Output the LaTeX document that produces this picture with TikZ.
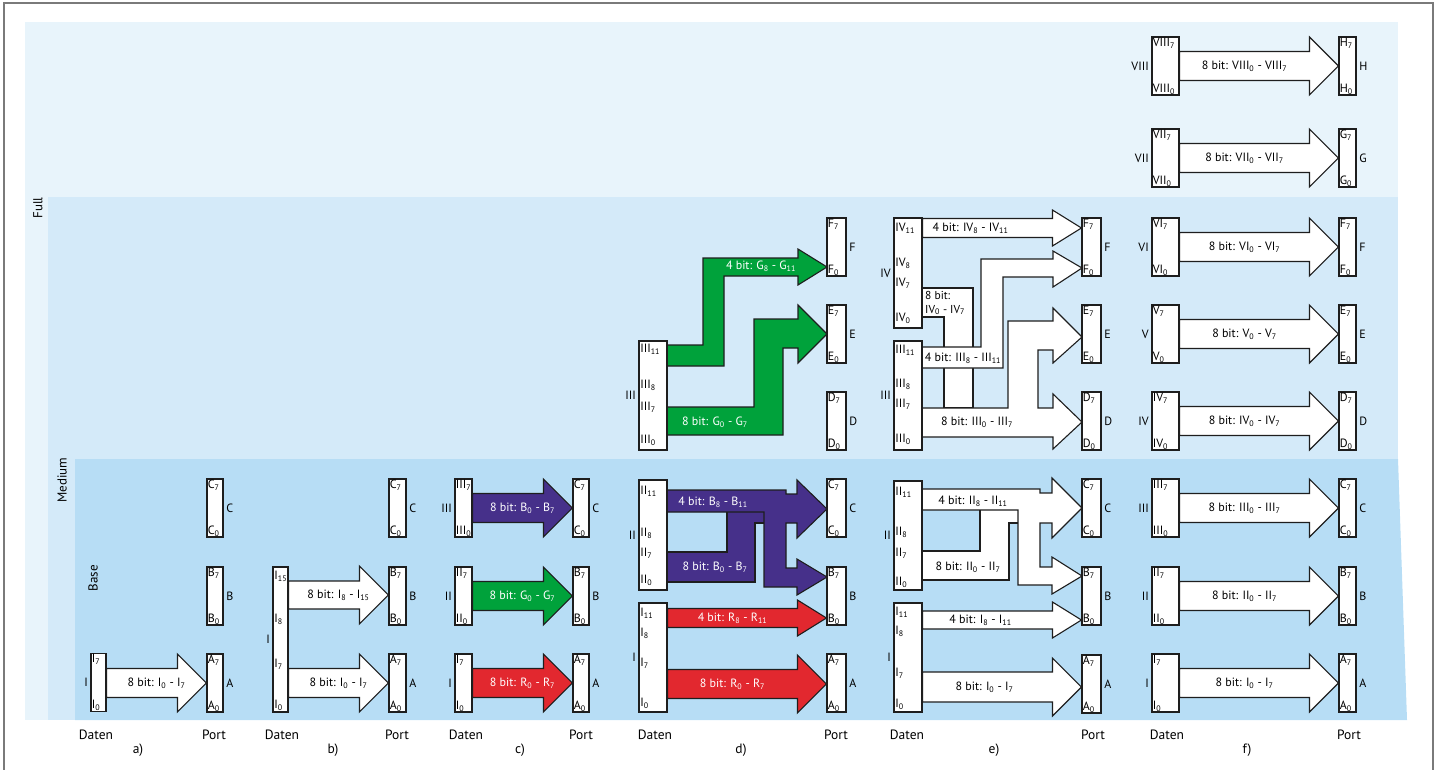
\documentclass[tikz,border=0pt]{standalone}
\usepackage{fontspec}
\setmainfont{PT Sans}
\usetikzlibrary{calc,backgrounds}
\definecolor{fullbg}{HTML}{E8F4FB}
\definecolor{medbg}{HTML}{D4EAF9}
\definecolor{basebg}{HTML}{B7DDF5}
\definecolor{edge}{HTML}{1E1E1E}
\definecolor{purp}{HTML}{46308A}
\definecolor{grn}{HTML}{00A23B}
\definecolor{rd}{HTML}{E2282F}
\definecolor{framec}{HTML}{7A7A7A}
\pgfdeclarelayer{flow}
\pgfsetlayers{background,flow,main}

% shift of the arrow text from the middle of the shaft
\newcommand{\txtshift}{0}
% block arrow: style, from, to, y, half shaft, half head, name, text
\newcommand{\blockarrow}[8]{%
  \path[#1] let \p1=(#2.east), \p2=(#3.west), \p3=(0,#4) in
    (\x1,\y3+#5) -- (\x2-29,\y3+#5) -- (\x2-29,\y3+#6) -- (\x2,\y3)
    -- (\x2-29,\y3-#6) -- (\x2-29,\y3-#5) -- (\x1,\y3-#5) -- cycle
    node[#1 text] (#7) at ({(\x1+\x2-29)/2+\txtshift},\y3) {#8};
}
% port: name, x, y, width, letter
\newcommand{\portbox}[5]{%
  \node[port=#4, label={[nameside]right:#5}] (#1) at (#2,#3) {};
  \node[hi] (#1t) at (#1.north west) {#5\textsubscript{7}};
  \node[lo] (#1b) at (#1.south west) {#5\textsubscript{0}};
}
% 8 bit data word: name, x, y, width, numeral
\newcommand{\databox}[5]{%
  \node[box, minimum width=#4, minimum height=58, label={[nameside]left:#5}] (#1) at (#2,#3) {};
  \node[hi] (#1t) at (#1.north west) {#5\textsubscript{7}};
  \node[lo] (#1b) at (#1.south west) {#5\textsubscript{0}};
}

\begin{document}
\begin{tikzpicture}[x=1pt, y=-1pt,
  every node/.style={font=\fontsize{12}{14}\selectfont},
  box/.style={draw=edge, fill=white, line width=1.1pt, inner sep=0pt},
  port/.style={box, minimum width=#1, minimum height=58},
  hi/.style={anchor=north west, inner sep=1.2pt},
  lo/.style={anchor=south west, inner sep=1.2pt},
  tag/.style={anchor=west, inner sep=1.2pt},
  nameside/.style={inner sep=2.5pt},
  edgeline/.style={draw=edge, line width=1.1pt},
  warrow/.style={edgeline, fill=white},
  warrow text/.style={text=black},
  parrow/.style={edgeline, fill=purp},
  parrow text/.style={text=white},
  garrow/.style={edgeline, fill=grn},
  garrow text/.style={text=white},
  rarrow/.style={edgeline, fill=rd},
  rarrow text/.style={text=white},
  foot/.style={font=\fontsize{13.5}{15}\selectfont},
  zone/.style={rotate=90, font=\fontsize{13}{15}\selectfont}
]
\useasboundingbox (0,0) rectangle (1439,770);

\begin{scope}[on background layer]
  \fill[fullbg] (25,22) rectangle (1398,720);
  \fill[medbg] (48,197) rectangle (1398,720);
  \fill[basebg] (75,459) -- (1398,459) -- (1407,720) -- (75,720) -- cycle;
  \draw[framec, line width=1.2pt] (4,780) -- (4,3) -- (1433,3) -- (1433,780);
\end{scope}

\node[zone] (full) at (38,208) {Full};
\node[zone] (medium) at (62,480) {Medium};
\node[zone] (base) at (93,578) {Base};

% a)
\databox{aI}{98.5}{682.5}{15}{I}
\portbox{aC}{215}{508}{16}{C}
\portbox{aB}{215}{596}{16}{B}
\portbox{aA}{215}{683}{16}{A}

% b)
\node[box, minimum width=15, minimum height=145, label={[nameside]left:I}] (bI) at (280.5,639.5) {};
\node[tag] (bI15) at (273,576) {I\textsubscript{15}};
\node[tag] (bI8) at (273,619) {I\textsubscript{8}};
\node[tag] (bI7) at (273,664) {I\textsubscript{7}};
\node[tag] (bI0) at (273,705) {I\textsubscript{0}};
\portbox{bC}{397.5}{508}{17}{C}
\portbox{bB}{397.5}{596}{17}{B}
\portbox{bA}{397.5}{683}{17}{A}

% c)
\databox{cIII}{463.5}{508}{17}{III}
\databox{cII}{463.5}{596}{17}{II}
\databox{cI}{463.5}{683}{17}{I}
\portbox{cC}{581}{508}{16}{C}
\portbox{cB}{581}{596}{16}{B}
\portbox{cA}{581}{683}{16}{A}

% d)
\node[box, minimum width=28, minimum height=109, label={[nameside]left:III}] (dIII) at (653,395.5) {};
\node[tag] (dIII11) at (639,349) {III\textsubscript{11}};
\node[tag] (dIII8) at (639,385) {III\textsubscript{8}};
\node[tag] (dIII7) at (639,407) {III\textsubscript{7}};
\node[tag] (dIII0) at (639,440) {III\textsubscript{0}};
\node[box, minimum width=28, minimum height=110, label={[nameside]left:II}] (dII) at (653,535) {};
\node[tag] (dII11) at (639,491) {II\textsubscript{11}};
\node[tag] (dII8) at (639,533) {II\textsubscript{8}};
\node[tag] (dII7) at (639,553) {II\textsubscript{7}};
\node[tag] (dII0) at (639,580) {II\textsubscript{0}};
\node[box, minimum width=28, minimum height=109, label={[nameside]left:I}] (dI) at (653,657.5) {};
\node[tag] (dI11) at (639,613) {I\textsubscript{11}};
\node[tag] (dI8) at (639,633) {I\textsubscript{8}};
\node[tag] (dI7) at (639,663) {I\textsubscript{7}};
\node[tag] (dI0) at (639,703) {I\textsubscript{0}};
\portbox{dF}{836.5}{247}{19}{F}
\portbox{dE}{836.5}{334}{19}{E}
\portbox{dD}{836.5}{421}{19}{D}
\portbox{dC}{836.5}{508}{19}{C}
\portbox{dB}{836.5}{596}{19}{B}
\portbox{dA}{836.5}{683}{19}{A}

% e)
\node[box, minimum width=28, minimum height=110, label={[nameside]left:IV}] (eIV) at (908,273) {};
\node[tag] (eIV11) at (894,228) {IV\textsubscript{11}};
\node[tag] (eIV8) at (894,263) {IV\textsubscript{8}};
\node[tag] (eIV7) at (894,283) {IV\textsubscript{7}};
\node[tag] (eIV0) at (894,318) {IV\textsubscript{0}};
\node[box, minimum width=28, minimum height=109, label={[nameside]left:III}] (eIII) at (908,395.5) {};
\node[tag] (eIII11) at (894,350) {III\textsubscript{11}};
\node[tag] (eIII8) at (894,384) {III\textsubscript{8}};
\node[tag] (eIII7) at (894,404) {III\textsubscript{7}};
\node[tag] (eIII0) at (894,439) {III\textsubscript{0}};
\node[box, minimum width=28, minimum height=109, label={[nameside]left:II}] (eII) at (908,535.5) {};
\node[tag] (eII11) at (894,492) {II\textsubscript{11}};
\node[tag] (eII8) at (894,532) {II\textsubscript{8}};
\node[tag] (eII7) at (894,553) {II\textsubscript{7}};
\node[tag] (eII0) at (894,582) {II\textsubscript{0}};
\node[box, minimum width=28, minimum height=109, label={[nameside]left:I}] (eI) at (908,657.5) {};
\node[tag] (eI11) at (894,612) {I\textsubscript{11}};
\node[tag] (eI8) at (894,631) {I\textsubscript{8}};
\node[tag] (eI7) at (894,673) {I\textsubscript{7}};
\node[tag] (eI0) at (894,704) {I\textsubscript{0}};
\portbox{eF}{1091.5}{247}{19}{F}
\portbox{eE}{1091.5}{334}{19}{E}
\portbox{eD}{1091.5}{421}{19}{D}
\portbox{eC}{1091.5}{508}{19}{C}
\portbox{eB}{1091.5}{596}{19}{B}
\portbox{eA}{1091.5}{684}{19}{A}

% f)
\databox{fVIII}{1165.5}{66}{27}{VIII}
\databox{fVII}{1165.5}{158}{27}{VII}
\databox{fVI}{1165.5}{247}{27}{VI}
\databox{fV}{1165.5}{334}{27}{V}
\databox{fIV}{1165.5}{421}{27}{IV}
\databox{fIII}{1165.5}{508}{27}{III}
\databox{fII}{1165.5}{596}{27}{II}
\databox{fI}{1165.5}{683}{27}{I}
\portbox{fH}{1347.5}{66}{17}{H}
\portbox{fG}{1347.5}{158}{17}{G}
\portbox{fF}{1347.5}{247}{17}{F}
\portbox{fE}{1347.5}{334}{17}{E}
\portbox{fD}{1347.5}{421}{17}{D}
\portbox{fC}{1347.5}{508}{17}{C}
\portbox{fB}{1347.5}{596}{17}{B}
\portbox{fA}{1347.5}{683}{17}{A}

\begin{pgfonlayer}{flow}
  \renewcommand{\txtshift}{14.5}
  \blockarrow{warrow}{aI}{aA}{683}{14.5}{29}{aL}{8 bit: I\textsubscript{0} - I\textsubscript{7}}
  \blockarrow{warrow}{bI}{bB}{595}{14}{29}{bL1}{8 bit: I\textsubscript{8} - I\textsubscript{15}}
  \blockarrow{warrow}{bI}{bA}{683}{14.5}{29}{bL2}{8 bit: I\textsubscript{0} - I\textsubscript{7}}
  \blockarrow{parrow}{cIII}{cC}{508}{14.5}{29}{cL1}{8 bit: B\textsubscript{0} - B\textsubscript{7}}
  \blockarrow{garrow}{cII}{cB}{596}{14.5}{29}{cL2}{8 bit: G\textsubscript{0} - G\textsubscript{7}}
  \blockarrow{rarrow}{cI}{cA}{683}{14.5}{29}{cL3}{8 bit: R\textsubscript{0} - R\textsubscript{7}}
  \renewcommand{\txtshift}{0}
  \blockarrow{rarrow}{dI}{dB}{618}{9.5}{18}{dL1}{4 bit: R\textsubscript{8} - R\textsubscript{11}}
  \blockarrow{rarrow}{dI}{dA}{684}{14.5}{29}{dL2}{8 bit: R\textsubscript{0} - R\textsubscript{7}}
  % d) green words of III
  \filldraw[garrow] (667,345) -- (703,345) -- (703,258) -- (798,258) -- (798,249) -- (827,267)
    -- (798,285) -- (798,276) -- (724,276) -- (724,366) -- (667,366) -- cycle;
  \filldraw[garrow] (667,407) -- (754,407) -- (754,319) -- (798,319) -- (798,305) -- (827,334)
    -- (798,363) -- (798,348) -- (783,348) -- (783,435) -- (667,435) -- cycle;
  \node[text=white] (dL3) at (761,266) {4 bit: G\textsubscript{8} - G\textsubscript{11}};
  \node[text=white] (dL4) at (715,422) {8 bit: G\textsubscript{0} - G\textsubscript{7}};
  % d) crossing purple words of II
  \fill[purp] (667,490) -- (786,490) -- (786,568) -- (797,568) -- (797,559) -- (827,577)
    -- (797,595) -- (797,587) -- (764,587) -- (764,512) -- (667,512) -- cycle;
  \fill[purp] (667,552) -- (727,552) -- (727,494) -- (797,494) -- (797,480) -- (827,509)
    -- (797,538) -- (797,523) -- (755,523) -- (755,582) -- (667,582) -- cycle;
  \draw[edgeline] (667,490) -- (786,490) -- (786,494) -- (797,494) -- (797,480) -- (827,509)
    -- (797,538) -- (797,523) -- (786,523) -- (786,568) -- (797,568) -- (797,559) -- (827,577)
    -- (797,595) -- (797,587) -- (764,587) -- (764,512) -- (667,512);
  \draw[edgeline] (667,552) -- (727,552) -- (727,512);
  \draw[edgeline] (667,582) -- (755,582) -- (755,523) -- (764,523);
  \node[text=white] (dL5) at (713,502) {4 bit: B\textsubscript{8} - B\textsubscript{11}};
  \node[text=white] (dL6) at (715,567) {8 bit: B\textsubscript{0} - B\textsubscript{7}};
  % e) upper words
  \filldraw[warrow] (922,288) -- (973,288) -- (973,408) -- (944,408) -- (944,317) -- (922,317) -- cycle;
  \filldraw[warrow] (922,408) -- (1008,408) -- (1008,321) -- (1053,321) -- (1053,308) -- (1082,337)
    -- (1053,363) -- (1053,350) -- (1038,350) -- (1038,408) -- (1053,408) -- (1053,394) -- (1082,422)
    -- (1053,449) -- (1053,437) -- (922,437) -- cycle;
  \filldraw[warrow] (922,347) -- (981,347) -- (981,259) -- (1053,259) -- (1053,251) -- (1082,268)
    -- (1053,287) -- (1053,277) -- (1003,277) -- (1003,368) -- (922,368) -- cycle;
  \renewcommand{\txtshift}{-17}
  \blockarrow{warrow}{eIV}{eF}{228}{9.5}{18}{eL1}{4 bit: IV\textsubscript{8} - IV\textsubscript{11}}
  \node[anchor=west, align=left, inner sep=1pt, font=\fontsize{11.5}{14}\selectfont] (eL2) at (924,303)
    {8 bit:\\IV\textsubscript{0} - IV\textsubscript{7}};
  \node (eL3) at (963,358) {4 bit: III\textsubscript{8} - III\textsubscript{11}};
  \node (eL4) at (977,422) {8 bit: III\textsubscript{0} - III\textsubscript{7}};
  % e) lower words
  \fill[white] (922,489) -- (1040,489) -- (1040,567) -- (1052,567) -- (1052,557) -- (1082,576)
    -- (1052,594) -- (1052,585) -- (1018,585) -- (1018,510) -- (922,510) -- cycle;
  \fill[white] (922,551) -- (980,551) -- (980,493) -- (1052,493) -- (1052,478) -- (1082,508)
    -- (1052,538) -- (1052,523) -- (1009,523) -- (1009,580) -- (922,580) -- cycle;
  \draw[edgeline] (922,489) -- (1040,489) -- (1040,493) -- (1052,493) -- (1052,478) -- (1082,508)
    -- (1052,538) -- (1052,523) -- (1040,523) -- (1040,567) -- (1052,567) -- (1052,557) -- (1082,576)
    -- (1052,594) -- (1052,585) -- (1018,585) -- (1018,510) -- (922,510);
  \draw[edgeline] (922,551) -- (980,551) -- (980,510);
  \draw[edgeline] (922,580) -- (1009,580) -- (1009,523) -- (1018,523);
  \node (eL5) at (973,501) {4 bit: II\textsubscript{8} - II\textsubscript{11}};
  \node (eL6) at (968,567) {8 bit: II\textsubscript{0} - II\textsubscript{7}};
  \renewcommand{\txtshift}{-7}
  \blockarrow{warrow}{eI}{eB}{620}{9}{18}{eL7}{4 bit: I\textsubscript{8} - I\textsubscript{11}}
  \renewcommand{\txtshift}{-3}
  \blockarrow{warrow}{eI}{eA}{687}{15}{29}{eL8}{8 bit: I\textsubscript{0} - I\textsubscript{7}}
  % f)
  \renewcommand{\txtshift}{0}
  \blockarrow{warrow}{fVIII}{fH}{66}{14.5}{29}{fL8}{8 bit: VIII\textsubscript{0} - VIII\textsubscript{7}}
  \blockarrow{warrow}{fVII}{fG}{158}{14.5}{29}{fL7}{8 bit: VII\textsubscript{0} - VII\textsubscript{7}}
  \blockarrow{warrow}{fVI}{fF}{247}{14.5}{29}{fL6}{8 bit: VI\textsubscript{0} - VI\textsubscript{7}}
  \blockarrow{warrow}{fV}{fE}{334}{14.5}{29}{fL5}{8 bit: V\textsubscript{0} - V\textsubscript{7}}
  \blockarrow{warrow}{fIV}{fD}{421}{14.5}{29}{fL4}{8 bit: IV\textsubscript{0} - IV\textsubscript{7}}
  \blockarrow{warrow}{fIII}{fC}{508}{14.5}{29}{fL3}{8 bit: III\textsubscript{0} - III\textsubscript{7}}
  \blockarrow{warrow}{fII}{fB}{596}{14.5}{29}{fL2}{8 bit: II\textsubscript{0} - II\textsubscript{7}}
  \blockarrow{warrow}{fI}{fA}{683}{14.5}{29}{fL1}{8 bit: I\textsubscript{0} - I\textsubscript{7}}
\end{pgfonlayer}

% captions under the panels
\node[foot] (aD) at (96,735) {Daten};   \node[foot] (aP) at (214,735) {Port};   \node[foot] (aN) at (138,750) {a)};
\node[foot] (bD) at (282,735) {Daten};  \node[foot] (bP) at (397,735) {Port};   \node[foot] (bN) at (333,750) {b)};
\node[foot] (cD) at (466,735) {Daten};  \node[foot] (cP) at (581,735) {Port};   \node[foot] (cN) at (520,750) {c)};
\node[foot] (dD) at (655,735) {Daten};  \node[foot] (dP) at (836,735) {Port};   \node[foot] (dN) at (741,750) {d)};
\node[foot] (eD) at (907,735) {Daten};  \node[foot] (eP) at (1093,735) {Port};  \node[foot] (eN) at (994,750) {e)};
\node[foot] (fD) at (1167,735) {Daten}; \node[foot] (fP) at (1349,735) {Port};  \node[foot] (fN) at (1247,750) {f)};
\end{tikzpicture}
\end{document}
